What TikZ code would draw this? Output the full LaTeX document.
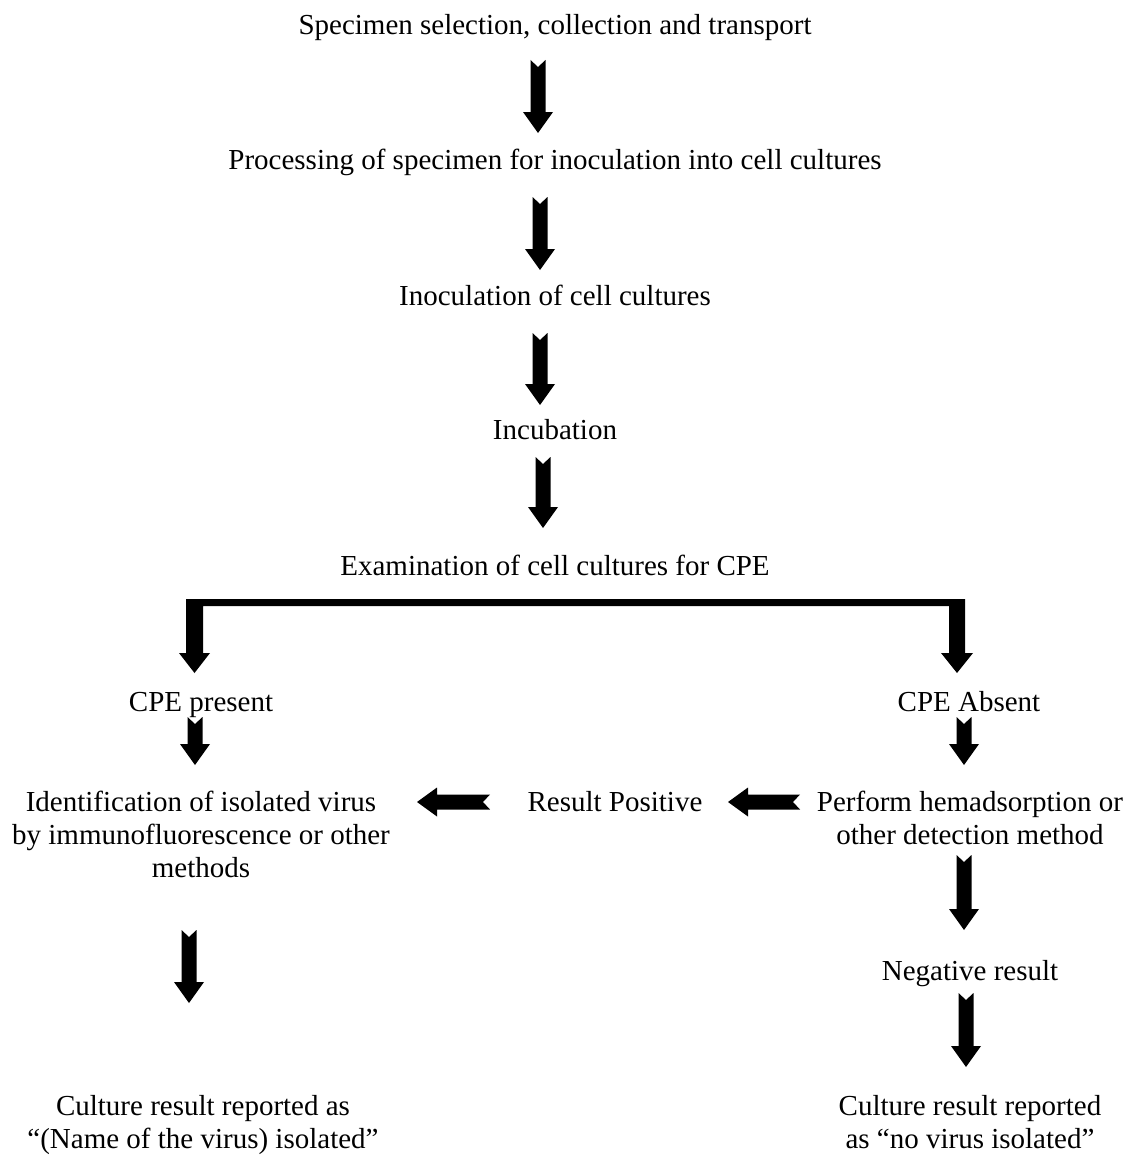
\documentclass[tikz,border=0pt]{standalone}
\usepackage{fontspec}
\setmainfont{Liberation Serif}
\usetikzlibrary{calc}
\tikzset{
  lbl/.style={anchor=base, inner sep=0pt, align=center, font=\fontsize{29}{33}\selectfont},
  blkfill/.style={fill=black, draw=none}
}
% down block arrow with notched tail: #1 tail coordinate, #2 tip coordinate
\newcommand\blkdown[2]{%
  \fill[blkfill] ($(#1)+(-7.5,0)$) -- ($(#1)+(0,7)$) -- ($(#1)+(7.5,0)$)
    -- ($(#2)+(7.5,-21)$) -- ($(#2)+(15,-21)$) -- (#2) -- ($(#2)+(-15,-21)$)
    -- ($(#2)+(-7.5,-21)$) -- cycle;}
% left block arrow with notched tail: #1 tail (right) coordinate, #2 tip (left) coordinate
\newcommand\blkleft[2]{%
  \fill[blkfill] ($(#1)+(0,-7.5)$) -- ($(#1)+(-7,0)$) -- ($(#1)+(0,7.5)$)
    -- ($(#2)+(20,7.5)$) -- ($(#2)+(20,14.5)$) -- (#2) -- ($(#2)+(20,-14.5)$)
    -- ($(#2)+(20,-7.5)$) -- cycle;}
\begin{document}
\begin{tikzpicture}[x=1pt,y=-1pt]
\useasboundingbox (0,0) rectangle (1136,1156);
\fill[white] (0,0) rectangle (1136,1156);

% texts (anchor base = baseline of the last line)
\node[lbl] (t1) at (555,35) {Specimen selection, collection and transport};
\node[lbl] (t2) at (555,169) {Processing of specimen for inoculation into cell cultures};
\node[lbl] (t3) at (555,305) {Inoculation of cell cultures};
\node[lbl] (t4) at (555,439) {Incubation};
\node[lbl] (t5) at (555,575) {Examination of cell cultures for CPE};
\node[lbl] (cpep) at (201,711) {CPE present};
\node[lbl] (cpea) at (969,711) {CPE Absent};
\node[lbl] (ident) at (201,877) {Identification of isolated virus\\by immunofluorescence or other\\methods};
\node[lbl] (respos) at (615,811) {Result Positive};
\node[lbl] (perform) at (970,844) {Perform hemadsorption or\\other detection method};
\node[lbl] (neg) at (970,980) {Negative result};
\node[lbl] (cultL) at (203,1148) {Culture result reported as\\``(Name of the virus) isolated''};
\node[lbl] (cultR) at (970,1148) {Culture result reported\\as ``no virus isolated''};

% arrow end points
\coordinate (a1s) at (538,60);  \coordinate (a1e) at (538,133);
\coordinate (a2s) at (540,197); \coordinate (a2e) at (540,270);
\coordinate (a3s) at (540,333); \coordinate (a3e) at (540,405);
\coordinate (a4s) at (543,457); \coordinate (a4e) at (543,528);
\coordinate (a5s) at (195,717); \coordinate (a5e) at (195,765);
\coordinate (a6s) at (964,717); \coordinate (a6e) at (964,765);
\coordinate (a7s) at (490,802); \coordinate (a7e) at (417,802);
\coordinate (a8s) at (800,802); \coordinate (a8e) at (728,802);
\coordinate (a9s) at (964,855); \coordinate (a9e) at (964,930);
\coordinate (a10s) at (966,993); \coordinate (a10e) at (966,1067);
\coordinate (a11s) at (189,930); \coordinate (a11e) at (189,1003);

\blkdown{a1s}{a1e}
\blkdown{a2s}{a2e}
\blkdown{a3s}{a3e}
\blkdown{a4s}{a4e}
\blkdown{a5s}{a5e}
\blkdown{a6s}{a6e}
\blkleft{a7s}{a7e}
\blkleft{a8s}{a8e}
\blkdown{a9s}{a9e}
\blkdown{a10s}{a10e}
\blkdown{a11s}{a11e}

% bracket splitting into two arrows
\coordinate (brL) at (194.5,673);
\coordinate (brR) at (957,673);
\fill[blkfill] (186,599) -- (965,599) -- (965,653) -- (973,653) -- (brR) -- (941,653)
  -- (949,653) -- (949,606) -- (203,606) -- (203,653) -- (210,653) -- (brL)
  -- (179,653) -- (186,653) -- cycle;
\end{tikzpicture}
\end{document}
